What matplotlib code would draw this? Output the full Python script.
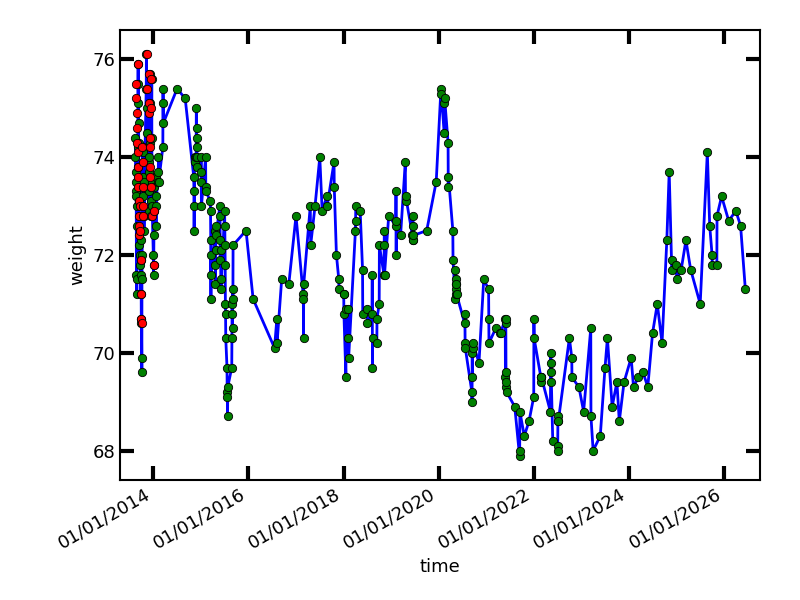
import matplotlib
matplotlib.use("Agg")
import matplotlib.pyplot as plt
import matplotlib.dates as mdates
import pandas as pd
import numpy as np

groups = [
 (2013.62,[74.4,74.0,73.3,73.7,73.5,73.2,71.6,71.5,71.2]),
 (2013.66,[72.6,73.0,73.8,74.2,75.5,75.9,75.1,74.7,74.3]),
 (2013.70,[73.1,73.4,72.2,72.8,71.8,72.0,72.5]),
 (2013.73,[71.2,71.6,72.3,71.9,70.7,70.6,69.9,69.6]),
 (2013.76,[71.5,72.0,72.8,73.2,74.2,73.6,74.1]),
 (2013.80,[73.4,72.5,72.8,73.5]),
 (2013.85,[75.4,76.1,75.0,74.5]),
 (2013.90,[73.9,73.3,72.9,73.7,74.0,75.7,75.1,74.3]),
 (2013.95,[73.1,72.8,73.4,74.4,75.6,73.5,73.0]),
 (2014.00,[72.0,71.6,71.8,72.4,72.9,73.4]),
 (2014.05,[73.6,73.0,72.6,73.2]),
 (2014.10,[73.5,73.7,74.0,73.5]),
 (2014.20,[74.2,75.4,75.1,74.7]),
 (2014.50,[75.4]),(2014.67,[75.2]),
 (2014.85,[73.6,73.3,72.5,73.0,74.0,73.9]),
 (2014.90,[74.0,75.0,74.6,74.4,74.2,74.0,73.8]),
 (2015.00,[73.7,74.0,73.5,73.0]),
 (2015.10,[74.0,73.4,73.3]),
 (2015.20,[73.1,72.9,72.3,71.1,72.0,71.6]),
 (2015.30,[72.5,71.8,71.4,72.1,72.6,72.4]),
 (2015.40,[73.0,72.8,71.9,72.3,72.1,71.5,71.3]),
 (2015.50,[72.9,72.6,72.2,71.8,71.0,70.8,70.3]),
 (2015.55,[69.7,69.2,69.1,68.7,69.3]),
 (2015.65,[69.7,70.3,71.0,70.8,70.5,71.3,71.1,72.2]),
 (2015.95,[72.5]),(2016.1,[71.1]),(2016.55,[70.1]),(2016.6,[70.7,70.2]),
 (2016.7,[71.5]),(2016.85,[71.4]),(2017.0,[72.8]),(2017.15,[71.2,71.1,70.3,71.4]),
 (2017.3,[73.0,72.6,72.2]),(2017.4,[73.0]),(2017.5,[74.0]),(2017.55,[72.9]),
 (2017.65,[73.2,73.0]),(2017.8,[73.9,73.4]),(2017.85,[72.0]),(2017.9,[71.5,71.3]),
 (2018.0,[71.2,71.2,70.8]),(2018.05,[69.5,70.9]),(2018.1,[70.3,70.9,69.9]),
 (2018.25,[72.5,72.7,73.0]),(2018.35,[72.9]),(2018.4,[71.7,70.8]),(2018.5,[70.9,70.6]),
 (2018.6,[70.8,71.6,69.7,70.3]),(2018.7,[70.2,70.7]),(2018.75,[71.0,72.2]),
 (2018.85,[71.6,72.2,72.5,71.6]),(2018.95,[72.8]),(2019.1,[72.6,73.3,72.0,72.7]),
 (2019.2,[72.4]),(2019.3,[73.9,73.1,73.2]),(2019.45,[72.4,72.3,72.8,72.6,72.3,72.4]),
 (2019.75,[72.5]),(2019.95,[73.5]),(2020.05,[75.4,75.3]),(2020.12,[74.5,75.1,75.2]),
 (2020.2,[74.3,73.4,73.6]),(2020.3,[72.5,71.9]),(2020.35,[71.1,71.7,71.4,71.2,71.5,71.3,71.4,71.2]),
 (2020.55,[70.6,70.8,70.2,70.1]),(2020.7,[69.2,69.0,70.0,69.5,70.1,70.2]),(2020.85,[69.8]),
 (2020.95,[71.5]),(2021.05,[71.3,70.7,70.2]),(2021.2,[70.5]),(2021.3,[70.4,70.4]),
 (2021.4,[70.7,69.5,70.6,70.7,69.6,69.3,69.4,69.2]),(2021.6,[68.9]),(2021.7,[67.9,68.0,68.8]),
 (2021.8,[68.3]),(2021.9,[68.6]),(2022.0,[69.1,70.7,70.3]),(2022.15,[69.5,69.4,69.5,69.5]),
 (2022.35,[68.8,69.4,70.0,69.8,69.6]),(2022.4,[68.2]),(2022.5,[68.1,68.0,68.6,68.7,68.6]),
 (2022.75,[70.3]),(2022.8,[69.9,69.5]),(2022.95,[69.3]),(2023.05,[68.8]),(2023.2,[70.5,68.7]),
 (2023.25,[68.0]),(2023.4,[68.3]),(2023.5,[69.7]),(2023.55,[70.3]),(2023.65,[68.9]),
 (2023.75,[69.4]),(2023.8,[68.6]),(2023.9,[69.4]),(2024.05,[69.9]),(2024.1,[69.3]),
 (2024.2,[69.5]),(2024.3,[69.6]),(2024.4,[69.3]),(2024.5,[70.4]),(2024.6,[71.0]),
 (2024.7,[70.2]),(2024.8,[72.3]),(2024.85,[73.7]),(2024.9,[71.9,71.7]),(2025.0,[71.8,71.5]),
 (2025.1,[71.7]),(2025.2,[72.3]),(2025.3,[71.7]),(2025.5,[71.0]),(2025.65,[74.1]),
 (2025.7,[72.6]),(2025.75,[72.0,71.8]),(2025.85,[71.8,72.8]),(2025.95,[73.2]),
 (2026.1,[72.7]),(2026.25,[72.9]),(2026.35,[72.6]),(2026.45,[71.3]),
]

red_groups = [
 (2013.64,[75.5,75.2,74.9,74.6,74.3]),
 (2013.67,[75.9,74.1,73.8,73.6,73.4,73.1]),
 (2013.70,[72.8,72.6,72.4,73.0,72.5]),
 (2013.74,[71.9,71.2,70.7,70.6]),
 (2013.77,[74.2,73.9,73.4,73.0,72.8]),
 (2013.86,[76.1,75.4]),
 (2013.91,[75.7,75.1,74.9,74.4,74.2,73.8,73.6]),
 (2013.95,[75.6,75.0,73.4,72.8]),
 (2014.02,[71.8,72.9]),
]

def expand(gs):
    yrs, vals = [], []
    for y0, vs in gs:
        for i, v in enumerate(vs):
            yrs.append(y0 + i * 0.004)
            vals.append(v)
    return yrs, vals

def to_dates(yrs):
    return [pd.Timestamp(int(y), 1, 1) + pd.Timedelta(days=(y - int(y)) * 365.25) for y in yrs]

yrs, weight = expand(groups)
ryrs, rweight = expand(red_groups)
time = to_dates(yrs)
rtime = to_dates(ryrs)

fig, ax = plt.subplots(figsize=(8, 6), dpi=100)
ax.plot(time, weight, '-o', color='blue', lw=2, markerfacecolor='green',
        markeredgecolor='black', markeredgewidth=0.6, markersize=6)
ax.plot(rtime, rweight, 'o', markerfacecolor='red', markeredgecolor='black',
        markeredgewidth=0.6, markersize=6)
ax.set_xlabel('time', fontsize=13)
ax.set_ylabel('weight', fontsize=13)
ax.set_xlim(pd.Timestamp('2013-04-20'), pd.Timestamp('2026-10-05'))
ax.set_ylim(67.4, 76.6)
ax.set_yticks([68, 70, 72, 74, 76])
ax.xaxis.set_major_locator(mdates.YearLocator(2))
ax.xaxis.set_major_formatter(mdates.DateFormatter('%d/%m/%Y'))
ax.tick_params(direction='in', length=10, width=3, top=True, right=True, labelsize=13)
for s in ax.spines.values():
    s.set_linewidth(1.5)
plt.setp(ax.get_xticklabels(), rotation=30, ha='right')
fig.subplots_adjust(left=0.15, right=0.95, top=0.95, bottom=0.2)
fig.savefig('out.png')
